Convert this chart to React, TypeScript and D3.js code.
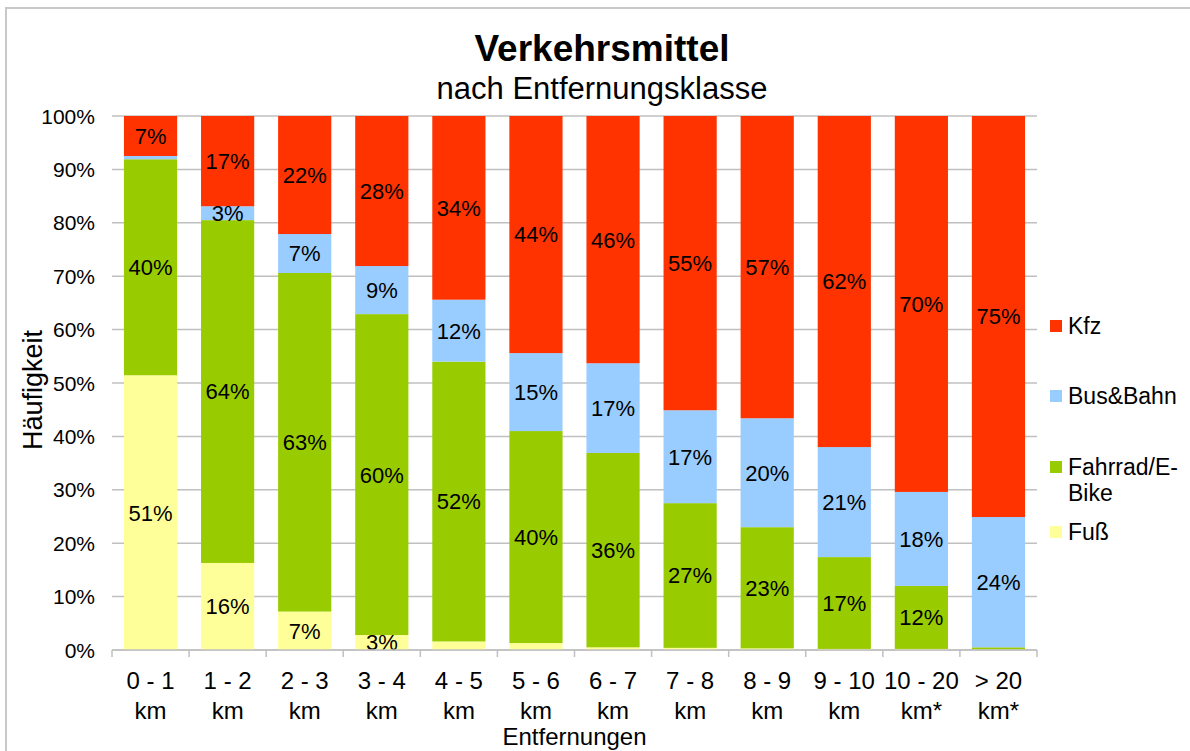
import React from 'react';
import * as d3 from 'd3';

// Entfernungsklassen (line break marks the second label line)
const categories = ['0 - 1\nkm', '1 - 2\nkm', '2 - 3\nkm', '3 - 4\nkm', '4 - 5\nkm', '5 - 6\nkm', '6 - 7\nkm', '7 - 8\nkm', '8 - 9\nkm', '9 - 10\nkm', '10 - 20\nkm*', '> 20\nkm*'];

// shares in percent
const fuss = [51.45, 16.3, 7.2, 2.8, 1.6, 1.3, 0.5, 0.4, 0.3, 0.2, 0.2, 0.1];
const fahrrad = [40.45, 64.2, 63.4, 60.1, 52.4, 39.7, 36.4, 27.1, 22.7, 17.2, 11.8, 0.4];
const busBahn = [0.61, 2.6, 7.3, 9.0, 11.6, 14.6, 16.8, 17.4, 20.4, 20.6, 17.6, 24.4];
const kfz = [7.49, 16.9, 22.1, 28.1, 34.4, 44.4, 46.3, 55.1, 56.6, 62.0, 70.4, 75.1];

const seriesKeys = ['Fuß', 'Fahrrad/E-Bike', 'Bus&Bahn', 'Kfz'];
const seriesValues = [fuss, fahrrad, busBahn, kfz];
const seriesColors = ['#FFFF99', '#99CC00', '#99CCFF', '#FF3300'];
const yTicks = [0, 10, 20, 30, 40, 50, 60, 70, 80, 90, 100];

const W = 1190;
const H = 751;
const FONT = '"Liberation Sans", Arial, sans-serif';

export default function App() {
  const margin = { left: 112, right: 1037, top: 116, bottom: 650 };

  const rows = categories.map((c, i) => {
    const r: Record<string, any> = { cat: c };
    seriesKeys.forEach((k, j) => (r[k] = seriesValues[j][i]));
    return r;
  });

  const stack = d3.stack<any>().keys(seriesKeys);
  const layers = stack(rows);

  const x = d3.scaleBand<string>()
    .domain(categories)
    .range([margin.left, margin.right])
    .paddingInner(0.31)
    .paddingOuter(0.155);

  const y = d3.scaleLinear().domain([0, 100]).range([margin.bottom, margin.top]);

  const step = x.step();
  const boundaries = d3.range(categories.length + 1).map((i) => margin.left + i * step);

  const legendItems = seriesKeys.map((k, i) => ({ key: k, color: seriesColors[i] })).reverse();
  const legendY = [326, 396, 467, 532];

  return (
    <svg width={W} height={H} style={{ position: 'absolute', left: 0, top: 0, display: 'block', fontFamily: FONT }}>
      <rect x={0} y={0} width={W} height={H} fill="#fff" />
      <rect x={6} y={8} width={W + 20} height={H + 20} fill="none" stroke="#c8c8c8" strokeWidth={2} />

      {/* title */}
      <text x={602} y={61} textAnchor="middle" fontSize={37} fontWeight="bold" fill="#000">Verkehrsmittel</text>
      <text x={602} y={99} textAnchor="middle" fontSize={31} fill="#000">nach Entfernungsklasse</text>

      {/* gridlines */}
      {yTicks.map((t) => (
        <line key={t} x1={margin.left} x2={margin.right} y1={y(t)} y2={y(t)} stroke="#c0c0c0" strokeWidth={1.5} />
      ))}

      {/* y tick labels */}
      {yTicks.map((t) => (
        <text key={'yl' + t} x={95} y={y(t)} dy="0.36em" textAnchor="end" fontSize={21} fill="#000">{t}%</text>
      ))}

      {/* bars */}
      {layers.map((layer, li) => (
        <g key={layer.key} fill={seriesColors[li]}>
          {layer.map((d, i) => (
            <rect
              key={i}
              x={x(categories[i])}
              y={y(d[1])}
              width={x.bandwidth()}
              height={Math.max(0, y(d[0]) - y(d[1]))}
            />
          ))}
        </g>
      ))}

      {/* data labels */}
      {layers.map((layer) => (
        <g key={'lab' + layer.key}>
          {layer.map((d, i) => {
            const v = d[1] - d[0];
            if (Math.round(v) < 3) return null;
            return (
              <text
                key={i}
                x={(x(categories[i]) as number) + x.bandwidth() / 2}
                y={(y(d[0]) + y(d[1])) / 2}
                dy="0.36em"
                textAnchor="middle"
                fontSize={22}
                fill="#000"
              >
                {Math.round(v)}%
              </text>
            );
          })}
        </g>
      ))}

      {/* x axis */}
      <line x1={margin.left} x2={margin.right} y1={margin.bottom} y2={margin.bottom} stroke="#c0c0c0" strokeWidth={1.5} />
      {boundaries.map((bx, i) => (
        <line key={'xt' + i} x1={bx} x2={bx} y1={margin.bottom} y2={margin.bottom + 7} stroke="#c0c0c0" strokeWidth={1.5} />
      ))}
      {categories.map((c) => {
        const cx = (x(c) as number) + x.bandwidth() / 2;
        const lines = c.split('\n');
        return (
          <text key={'xl' + c} x={cx} textAnchor="middle" fontSize={24} fill="#000">
            {lines.map((l, j) => (
              <tspan key={j} x={cx} y={689 + j * 30}>{l}</tspan>
            ))}
          </text>
        );
      })}

      {/* axis titles */}
      <text x={(margin.left + margin.right) / 2} y={745} textAnchor="middle" fontSize={24} fill="#000">Entfernungen</text>
      <text transform={`translate(42,390) rotate(-90)`} textAnchor="middle" fontSize={27} fill="#000">Häufigkeit</text>

      {/* legend */}
      {legendItems.map((it, i) => (
        <g key={it.key} transform={`translate(1050,${legendY[i]})`}>
          <rect x={0} y={-6} width={12} height={12} fill={it.color} />
          {it.key === 'Fahrrad/E-Bike' ? (
            <text x={18} y={0} fontSize={23} fill="#000">
              <tspan x={18} dy="0.36em">Fahrrad/E-</tspan>
              <tspan x={18} dy="26">Bike</tspan>
            </text>
          ) : (
            <text x={18} y={0} dy="0.36em" fontSize={23} fill="#000">{it.key}</text>
          )}
        </g>
      ))}
    </svg>
  );
}
